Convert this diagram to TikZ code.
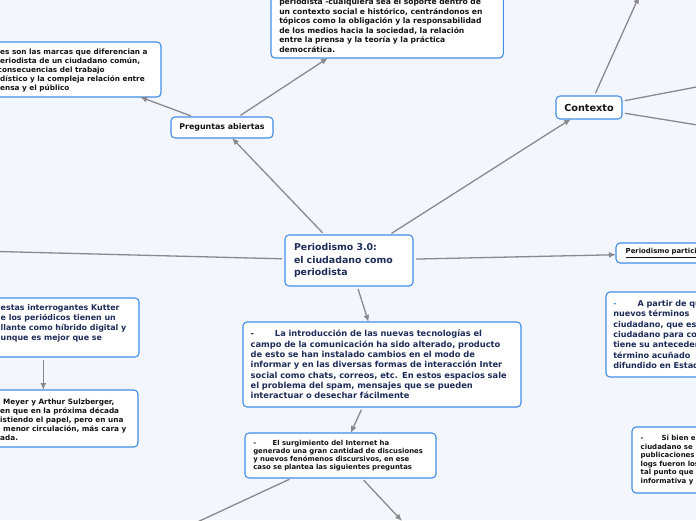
\documentclass[tikz,border=0pt]{standalone}
\usepackage{fontspec}
\setmainfont{DejaVu Sans}
\usetikzlibrary{arrows.meta}
\definecolor{bgc}{RGB}{243,246,253}
\definecolor{bord}{RGB}{64,142,230}
\definecolor{conn}{RGB}{138,138,142}
\definecolor{navy}{RGB}{30,44,88}
\definecolor{ink}{RGB}{20,20,24}
\definecolor{dashblue}{RGB}{64,142,230}
\tikzset{
  box/.style={draw=bord, fill=white, line width=1.1pt, rounded corners=4pt, outer sep=0pt},
  txt/.style={inner sep=0pt, align=left, anchor=west},
  link/.style={draw=conn, line width=1.3pt, shorten <=3pt},
  arr/.style={link, -{Latex[length=7pt,width=6pt]}},
}
\begin{document}
\begin{tikzpicture}[x=1pt,y=-1pt]
\useasboundingbox (0,0) rectangle (696,520);
\clip (0,0) rectangle (696,520);
\fill[bgc] (0,0) rectangle (696,520);

% top-left box (clipped)
\node[box, anchor=north west, minimum width=189pt, minimum height=55pt] (tl) at (-28,42) {};
\node[txt, text=ink, font=\fontsize{7.3}{9.1}\selectfont\bfseries] (tlt) at (0,70.5)
 {es son las marcas que diferencian a\\
  eriodista de un ciudadano común,\\
  \hspace*{-2.5pt}consecuencias del trabajo\\
  dístico y la compleja relación entre\\
  ensa y el público};

% top-centre box (clipped at top)
\node[box, anchor=south west, text width=215.7pt, inner xsep=8.3pt, inner ysep=5.7pt, align=left,
      text=ink, font=\fontsize{7.6}{9.5}\selectfont\bfseries] (tc) at (271,58)
 {~\\ ~\\
  periodista -cualquiera sea el soporte dentro de\\
  un contexto social e histórico, centrándonos en\\
  tópicos como la obligación y la responsabilidad\\
  de los medios hacia la sociedad, la relación\\
  entre la prensa y la teoría y la práctica\\
  democrática.};

% Preguntas abiertas
\node[box, anchor=north west, minimum width=102pt, minimum height=21pt, inner sep=0pt,
      text=ink, font=\fontsize{7.9}{9}\selectfont\bfseries] (preg) at (171,117) {Preguntas abiertas};

% central
\node[box, anchor=north west, minimum height=51pt, text width=110pt, inner xsep=9pt, align=left,
      text=navy, font=\fontsize{9.4}{12.5}\selectfont\bfseries] (c) at (285,235)
 {Periodismo 3.0:\\ el ciudadano como\\ periodista};

% Contexto
\node[box, anchor=north west, minimum width=66pt, minimum height=23pt, inner sep=0pt,
      text=ink, font=\fontsize{9.7}{11}\selectfont\bfseries] (ctx) at (556,96) {Contexto};

% Periodismo participativo (clipped right)
\node[box, anchor=north west, minimum height=20pt, text width=140pt, inner xsep=9.7pt, align=left,
      text=ink, font=\fontsize{6.9}{8}\selectfont\bfseries] (pp) at (616,243) {\underline{Periodismo participativo}};

% A partir de ... (clipped right)
\node[box, anchor=north west, minimum height=85pt, text width=200pt, inner xsep=7.3pt, align=left,
      text=navy, font=\fontsize{8.1}{10.4}\selectfont\bfseries] (ap) at (606,292)
 {\makebox[24.4pt][l]{\textcolor{dashblue}{-}}A partir de que\\
  nuevos términos\\
  ciudadano, que es\\
  ciudadano para comunicar\\
  tiene su antecedente\\
  término acuñado\\
  difundido en Estados};

% Si bien ... (clipped right)
\node[box, anchor=north west, minimum height=66pt, text width=150pt, inner xsep=8.7pt, align=left,
      text=ink, font=\fontsize{7}{8.55}\selectfont\bfseries] (sb) at (632,427)
 {\makebox[21pt][l]{-}Si bien el\\
  ciudadano se\\
  publicaciones\\
  logs fueron los\\
  tal punto que\\
  informativa y};

% introduction box
\node[box, anchor=north west, minimum height=85pt, text width=262.6pt, inner xsep=7.7pt, align=left,
      text=navy, font=\fontsize{8.3}{10.3}\selectfont\bfseries] (intro) at (243,322)
 {\makebox[24.3pt][l]{-}La introducción de las nuevas tecnologías el\\
  campo de la comunicación ha sido alterado, producto\\
  de esto se han instalado cambios en el modo de\\
  informar y en las diversas formas de interacción Inter\\
  social como chats, correos, etc. En estos espacios sale\\
  el problema del spam, mensajes que se pueden\\
  interactuar o desechar fácilmente};

% surgimiento box
\node[box, anchor=north west, minimum height=45pt, text width=174.4pt, inner xsep=8.3pt, align=left,
      text=ink, font=\fontsize{6.9}{8.2}\selectfont\bfseries] (surg) at (245,433)
 {\makebox[19.4pt][l]{-}El surgimiento del Internet ha\\
  generado una gran cantidad de discusiones\\
  y nuevos fenómenos discursivos, en ese\\
  caso se plantea las siguientes preguntas};

% left boxes (clipped left)
\node[box, anchor=north west, minimum width=191.4pt, minimum height=59pt] (lb1) at (-52.4,298) {};
\node[txt, text=navy, font=\fontsize{7.9}{10}\selectfont\bfseries] (lb1t) at (0.5,323.3)
 {estas interrogantes Kutter\\
  e los periódicos tienen un\\
  llante como híbrido digital y\\
  unque es mejor que se};
\node[box, anchor=north west, minimum width=189.4pt, minimum height=57pt] (lb2) at (-51.4,390) {};
\node[txt, text=ink, font=\fontsize{7.3}{9}\selectfont\bfseries] (lb2t) at (0,419.5)
 {\hspace*{3pt}Meyer y Arthur Sulzberger,\\
  en que en la próxima década\\
  istiendo el papel, pero en una\\
  \hspace*{3pt}menor circulación, más cara y\\
  ada.};

% free ends
\coordinate (lft) at (-100,249);
\coordinate (bl) at (150,544);
\coordinate (br) at (402,521);
\coordinate (up) at (639,-3.5);
\coordinate (rt) at (800,67.2);
\coordinate (rb) at (800,141.5);

% connectors
\draw[arr] (c) -- (preg);
\draw[arr] (c) -- (ctx);
\draw[arr] (c) -- (pp);
\draw[link] (c) -- (lft);
\draw[arr] (c) -- (intro);
\draw[arr] (intro) -- (surg);
\draw[link] (surg) -- (bl);
\draw[arr] (surg) -- (br);
\draw[arr] (preg) -- (tl);
\draw[arr] (preg) -- (tc);
\draw[arr] (ctx) -- (up);
\draw[link] (ctx) -- (rt);
\draw[link] (ctx) -- (rb);
\draw[arr] (lb1) -- (lb2);
\end{tikzpicture}
\end{document}
